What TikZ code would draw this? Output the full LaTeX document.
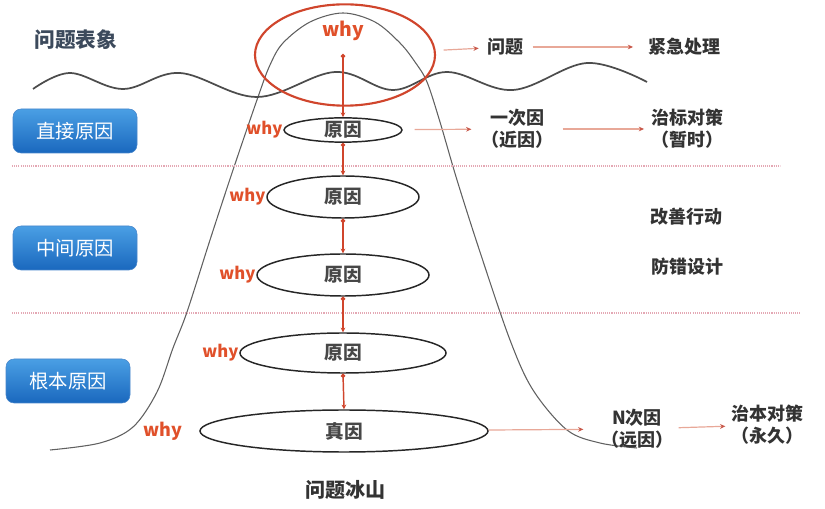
\documentclass[tikz,border=0pt]{standalone}
\usepackage{fontspec}
\setmainfont{Noto Sans CJK SC}
\usetikzlibrary{shapes.geometric,arrows.meta,positioning}
\definecolor{wred}{HTML}{E0502A}
\definecolor{ered}{HTML}{D0452C}
\definecolor{txt}{HTML}{333333}
\definecolor{ttl}{HTML}{3C4A5C}
\definecolor{pk}{HTML}{E8A898}
\definecolor{pktip}{HTML}{C8584A}
\definecolor{bluetop}{HTML}{4A9FE4}
\definecolor{bluebot}{HTML}{1A68BE}
\definecolor{dots}{HTML}{E4A8B4}
\tikzset{
  cause/.style={ellipse, draw=black!85, line width=1.1pt, fill=white, inner sep=0pt,
    font=\fontsize{14}{16}\selectfont\bfseries, text=txt!90},
  whylab/.style={font=\fontsize{12.5}{14}\selectfont\bfseries, text=wred, inner sep=0.5pt},
  updown/.style={draw=ered, line width=1.1pt, {Circle[length=3.2pt]}-{Stealth[length=3.5pt,width=3.5pt]}},
  harr/.style={draw=pk, line width=0.9pt, -{Stealth[length=4pt,width=3.5pt,color=pktip]}},
  rlab/.style={font=\fontsize{13.5}{16.5}\selectfont\bfseries, text=txt, align=center, inner sep=1pt},
  bluebox/.style={rounded corners=6pt, top color=bluetop, bottom color=bluebot, draw=bluebot!80,
    minimum width=93pt, minimum height=33pt, text=white, font=\fontsize{14.5}{16}\selectfont},
  sep/.style={draw=dots, line width=0.9pt, dash pattern=on 0.8pt off 0.8pt}
}
\begin{document}
\begin{tikzpicture}[x=0.75pt,y=-0.75pt]
\useasboundingbox (0,0) rectangle (825,509);

% iceberg outline
\draw[gray!75!black, line width=0.8pt] plot[smooth, tension=0.55] coordinates {
  (50,450) (100,443) (133,427) (157,392) (173,348) (187,312) (210,240) (233,170)
  (258,97) (270,65) (283,43) (310,22) (343,13) (375,22) (400,43) (415,62) (427,82)
  (440,122) (457,180) (480,252) (510,340) (533,390) (567,430) (600,443) (637,448)};

% sea surface wave
\draw[black!70, line width=1.3pt] plot[smooth, tension=0.6] coordinates {
  (33,89) (70,73) (123,89) (180,73) (257,97) (335,72) (393,90) (447,72) (513,90) (587,63) (647,82)};

% separators
\draw[sep] (12,166) -- (780,166);
\draw[sep] (12,313) -- (800,313);

% titles and boxes
\node[font=\fontsize{15.5}{17}\selectfont\bfseries, text=ttl] (title) at (76,40) {问题表象};
\node[bluebox] (b1) at (75,131) {直接原因};
\node[bluebox] (b2) at (75,248) {中间原因};
\node[bluebox] (b3) at (68,381) {根本原因};

% red ellipse
\node[ellipse, draw=ered, line width=1.6pt, minimum width=135pt, minimum height=76pt, inner sep=0pt] (top) at (345,55) {};
\node[font=\fontsize{14.5}{16}\selectfont\bfseries, text=wred] (topwhy) at (343,31) {why};
\coordinate (topdot) at (343,54);

% cause ellipses
\node[cause, minimum width=88.5pt, minimum height=17pt] (e1) at (343,130) {原因};
\node[cause, minimum width=114pt, minimum height=31.5pt] (e2) at (343,197) {原因};
\node[cause, minimum width=129pt, minimum height=31.5pt] (e3) at (343,275) {原因};
\node[cause, minimum width=154.5pt, minimum height=30pt] (e4) at (343,353) {原因};
\node[cause, minimum width=216pt, minimum height=31.5pt] (e5) at (344,431) {真因};

\node[whylab, anchor=east] (w1) at (e1.west) {why};
\node[whylab, anchor=east] (w2) at (e2.west) {why};
\node[whylab, anchor=east] (w3) at (e3.west) {why};
\node[whylab, anchor=east] (w4) at (e4.west) {why};
\node[whylab, anchor=east, xshift=-12pt, font=\fontsize{13.5}{15}\selectfont\bfseries] (w5) at (e5.west) {why};

% vertical red connectors
\draw[updown] (topdot) -- (e1.north);
\draw[updown] (e1.south) -- (e2.north);
\draw[updown] (e2.south) -- (e3.north);
\draw[updown] (e3.south) -- (e4.north);
\draw[updown] (e4.south) -- (e5.north);

% right side labels
\node[rlab] (wenti) at (505,47) {问题};
\node[rlab] (jinji) at (684,47) {紧急处理};
\node[rlab] (yici) at (517,129) {一次因\\（近因）};
\node[rlab] (zhibiao) at (687,129) {治标对策\\（暂时）};
\node[rlab] (gaishan) at (686,217) {改善行动};
\node[rlab] (fangcuo) at (687,267) {防错设计};
\node[rlab] (nci) at (637,429) {N次因\\（远因）};
\node[rlab] (zhiben) at (767,425) {治本对策\\（永久）};
\node[font=\fontsize{15}{17}\selectfont\bfseries, text=txt] (bingshan) at (345,490) {问题冰山};

% horizontal arrows
\draw[harr, shorten <=6pt, shorten >=5pt] (top) -- (wenti);
\draw[harr, shorten <=6pt, shorten >=10pt] (wenti) -- (jinji);
\draw[harr, shorten <=9pt, shorten >=6pt] (e1) -- (yici);
\draw[harr, shorten <=6pt, shorten >=4pt] (yici) -- (zhibiao);
\draw[harr, shorten >=12pt] (e5) -- (nci);
\draw[harr, shorten <=3pt, shorten >=3pt] (nci) -- (zhiben);
\end{tikzpicture}
\end{document}
